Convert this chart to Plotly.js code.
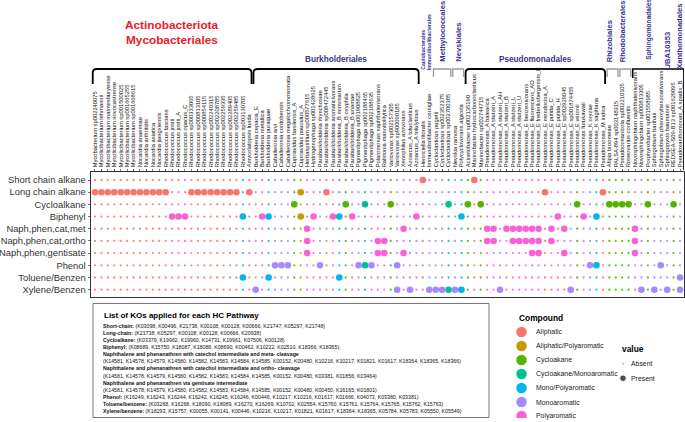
<!DOCTYPE html>
<html><head><meta charset="utf-8">
<script src="https://cdn.plot.ly/plotly-3.0.1.min.js"></script>
<style>html,body{margin:0;padding:0;background:#fff;} #chart{width:685px;height:422px;}</style>
</head><body><div id="chart"></div>
<script>
// ---------------- DATA ----------------
const species = [
"Mycobacterium sp002240075","Mycolicibacterium lehmannii","Mycolicibacterium malmesburyense","Mycolicibacterium novocastrense",
"Mycolicibacterium sp001500025","Mycolicibacterium sp001665255","Mycolicibacterium sp001668615","Nocardia anaemiae",
"Nocardia arthritidis","Nocardia asiatica","Nocardia jiangxiensis","Rhodococcus fascians","Rhodococcus jostii",
"Rhodococcus jostii_A","Rhodococcus opacus_C","Rhodococcus sp000333065","Rhodococcus sp000813105","Rhodococcus sp000854115",
"Rhodococcus sp002240315","Rhodococcus sp002208785","Rhodococcus sp002259335","Rhodococcus sp002289405","Rhodococcus sp002259485",
"Rhodococcus sp003130705","Amycolatopsis lurida",
"Burkholderia cepacia_E","Burkholderia metallica","Burkholderia puraquae","Caballeronia arvi","Caballeronia cordobensis",
"Caballeronia megalochromosomata","Cupriavidus basilensis_A","Cupriavidus pauculus_A","Herbaspirillum sp000577615",
"Hydrogenophaga sp001428625","Paraburkholderia rhynchosiae","Paraburkholderia sp008472445","Paraburkholderia aromaticivorans",
"Paraburkholderia_B mimosarum","Paraburkholderia_B oxyphila","Paraburkholderia_B unamae","Pigmentiphaga sp001908825",
"Pigmentiphaga sp002188465","Pigmentiphaga sp002188635","Polaromonas naphthalenivorans","Ralstonia mannitolilytica",
"Variovorax sp002157305","Variovorax sp900090185","Xenophilus azovorans","Azoarcus_A toluclasticus","Azoarcus_A tolulyticus",
"Henriciella litoralis","Immundisolibacter cernigliae","Cycloclasticus pugetii","Cycloclasticus sp002352375",
"Cycloclasticus sp002700385","Nevskia ramosa","Polycyclovorans algicola",
"Acinetobacter sp002135190","Marinobacter hydrocarbonoclasticus","Marinobacter sp002744715","Pseudomonas_A balearica",
"Pseudomonas_A stutzeri_A","Pseudomonas_A stutzeri_AH","Pseudomonas_A stutzeri_B","Pseudomonas_A stutzeri_L",
"Pseudomonas_A stutzeri_U","Pseudomonas_E benzenivorans","Pseudomonas_E fluorescens_AO","Pseudomonas_E frederiksbergensis_E",
"Pseudomonas_E mendocina_A","Pseudomonas_E putida_C","Pseudomonas_E putida_H","Pseudomonas_E sp002929045",
"Pseudomonas_E sp001874455","Pseudomonas_E veronii","Pseudomonas furukawaii","Pseudomonas_K oryzae",
"Pseudomonas_K sagittaria","Pseudomonas_M indica",
"Afipia broomeae","PALSA-894 sp003148315","Pseudooceanicola sp002210105","Roseovarius confluentis",
"Novosphingobium naphthalenivorans","Novosphingobium sp000813305","Porphyrobacter sp001558985","Sphingobium barthaii",
"Sphingobium phenoxybenzoativorans","Sphingopyxis baumannii","REDSEA-S09-B13 sp001629095","Pseudoxanthomonas_A spadix_B"
];

// compound class of each species (A, AP, C, CM, MP, M, P)
const speciesCompound = [
"A","A","A","A","A","A","A","A","A","A","A","A","P","P","P","A","A","A","A","A","A","A","A","MP","A",
"M","P","MP","M","M","M","C","AP","P","P","M","A","P","MP","C","P","M","CM","M","P","P","C","M","P","M","P",
"A","M","M","M","CM","M","MP",
"C","A","C","P","P","M","P","P","P","P","P","P","A","P","P","P","M","C","P","M","MP","A",
"C","C","C","C","P","M","C","M","M","M","C","M"
];

const orderNames = ["Mycobacteriales","Burkholderiales","Caulobacterales","Immundisolibacterales","Methylococcales",
  "Nevskiales","Pseudomonadales","Rhizobiales","Rhodobacterales","Sphingomonadales","UBA10353","Xanthomonadales"];
const orderSizes = [25,26,1,1,3,2,22,2,2,6,1,1];

const pathways = ["Short chain alkane","Long chain alkane","Cycloalkane","Biphenyl","Naph,phen,cat,met",
  "Naph,phen,cat,ortho","Naph,phen,gentisate","Phenol","Toluene/Benzen","Xylene/Benzen"];

// species (column numbers) with KOs present, per pathway
const presShortChain = [52,60];
const presLongChain  = [1,2,3,4,5,6,7,8,9,10,11,12,16,17,18,19,20,21,22,23,25,33,37,71,80];
const presCyclo      = [32,40,43,47,56,59,61,76,81,82,83,84,87,91];
const presBiphenyl   = [13,14,15,24,27,28,33,35,38,39,41,51,58,73,77,79];
const presNaphMeta   = [34,49,62,63,65,66,67,68,69,70,72,74,85];
const presNaphOrtho  = [34,45,46,62,63,66,67,68,69,70,72,85];
const presNaphGent   = [34,45,46,49,69,70,74,85];
const presPhenol     = [29,30,31,36,42,43,44,48,78,79,89];
const presToluene    = [24,28,39,92];
const presXylene     = [26,48,50,53,54,55,56,57,58,64,75,86,88,90,92];

const compoundCodes = ["A","AP","C","CM","MP","M","P"];
const compounds = ["Aliphatic","Aliphatic/Polyaromatic","Cycloakane","Cycloakane/Monoaromatic","Mono/Polyaromatic","Monoaromatic","Polyaromatic"];
const valueLevels = ["Absent","Present"];

const koPathways = ["Short-chain:","Long-chain:","Cycloalkane:","Biphenyl:",
  "Naphthalene and phenanathren with catechol intermediate and meta- cleavage",
  "Naphthalene and phenanathren with catechol intermediate and ortho- cleavage",
  "Naphthalene and phenanathren via gentisate intermediate",
  "Phenol:","Toluene/benzene:","Xylene/benzene:"];
const koShort = ["K03098","K00496","K21738","K00108","K00128","K00666","K21747","K05297","K21748"];
const koLong = ["K21738","K05297","K00108","K00128","K00666","K20938"];
const koCyclo = ["K03379","K19962","K19960","K14731","K19961","K07506","K00128"];
const koBiphenyl = ["K08689","K15750","K18087","K18088","K08690","K00462","K10222","K02510","K18366","K18365"];
const koNaphMeta = ["K14581","K14578","K14579","K14580","K14582","K14583","K14584","K14585","K00152","K00480","K10216","K10217","K01821","K01617","K18364","K18365","K18366"];
const koNaphOrtho = ["K14581","K14578","K14579","K14580","K14582","K14583","K14584","K14585","K00152","K00480","K03381","K01856","K03464"];
const koNaphGent = ["K14581","K14578","K14579","K14580","K14582","K14583","K14584","K14585","K00152","K00480","K00450","K16165","K01801"];
const koPhenol = ["K16249","K16243","K16244","K16242","K16245","K16246","K00446","K10217","K10216","K01617","K01666","K04073","K03380","K03381"];
const koToluene = ["K03268","K16268","K18090","K18089","K16270","K16269","K10702","K02554","K15760","K15761","K15764","K15765","K15762","K15763"];
const koXylene = ["K18293","K15757","K00055","K00141","K00446","K10216","K10217","K01821","K01617","K18364","K18365","K05784","K05783","K05550","K05549"];

// ---------------- STYLE ----------------
const compoundColors = ["#F8766D","#C49A00","#53B400","#00C094","#00B6EB","#A58AFF","#FB61D7"];
const FONT = "Liberation Sans, Arial, Helvetica, sans-serif";
const RED = "#E8202A", BLUE = "#3A3393";
const W = 685, H = 422, ML = 91, MR = 1, MT = 172, MB = 4;
const PW = W - ML - MR, PH = H - MT - MB;
const px2x = p => (p - ML) / PW;
const py2y = p => (H - MB - p) / PH;

const presenceLists = [presShortChain,presLongChain,presCyclo,presBiphenyl,presNaphMeta,presNaphOrtho,presNaphGent,presPhenol,presToluene,presXylene];
const colorOf = i => compoundColors[compoundCodes.indexOf(speciesCompound[i])];

const ax=[],ay=[],ac=[],px=[],py=[],pc=[];
pathways.forEach((p,ri)=>{
  const s = new Set(presenceLists[ri]);
  species.forEach((sp,ci)=>{
    if (s.has(ci+1)) { px.push(ci+1); py.push(ri+1); pc.push(colorOf(ci)); }
    else { ax.push(ci+1); ay.push(ri+1); ac.push(colorOf(ci)); }
  });
});

// legend rows (title row 0, entries 1..n); value legend centred beside it
const valueRows = [2.2, 3.28, 4.3];
const LX0 = 521.5, LX1 = 623;   // legend key columns (px)

const traces = [
  {type:"scatter", mode:"markers", x:ax, y:ay, marker:{size:2.3, color:ac, opacity:0.85}, hoverinfo:"skip", showlegend:false},
  {type:"scatter", mode:"markers", x:px, y:py, marker:{size:6.6, color:pc}, hoverinfo:"skip", showlegend:false},
  {type:"scatter", mode:"markers", xaxis:"x2", yaxis:"y2", x:compounds.map(()=>0), y:compounds.map((c,i)=>i+1),
   marker:{size:10.5, color:compoundColors}, hoverinfo:"skip", showlegend:false},
  {type:"scatter", mode:"markers", xaxis:"x2", yaxis:"y2", x:valueLevels.map(()=>1), y:valueLevels.map((v,i)=>valueRows[i+1]),
   marker:{size:[2.3,6.6], color:"#000"}, hoverinfo:"skip", showlegend:false}
];

const annotations = [], shapes = [];

annotations.push({xref:"x2",yref:"y2",x:0,y:0,xshift:-4.5,xanchor:"left",yanchor:"middle",showarrow:false,
  text:"<b>Compound</b>",font:{family:FONT,size:8.4,color:"#000"}});
annotations.push({xref:"x2",yref:"y2",x:1,y:valueRows[0],xshift:-3,xanchor:"left",yanchor:"middle",showarrow:false,
  text:"<b>value</b>",font:{family:FONT,size:8.4,color:"#000"}});
compounds.forEach((c,i)=>annotations.push({xref:"x2",yref:"y2",x:0,y:i+1,xshift:12,xanchor:"left",yanchor:"middle",
  showarrow:false,text:c,font:{family:FONT,size:6.9,color:"#1a1a1a"}}));
valueLevels.forEach((v,i)=>annotations.push({xref:"x2",yref:"y2",x:1,y:valueRows[i+1],xshift:5.5,xanchor:"left",yanchor:"middle",
  showarrow:false,text:v,font:{family:FONT,size:6.9,color:"#1a1a1a"}}));

// KO box
shapes.push({type:"rect",xref:"paper",yref:"paper",x0:px2x(93),x1:px2x(489),y0:py2y(417.5),y1:py2y(303.5),
  line:{color:"#555",width:0.8},fillcolor:"rgba(0,0,0,0)"});
annotations.push({xref:"paper",yref:"paper",x:px2x(102),y:py2y(315),xanchor:"left",yanchor:"middle",showarrow:false,
  text:"<b>List of KOs applied for each HC Pathway</b>",font:{family:FONT,size:8,color:"#000"}});
const koLists = [koShort,koLong,koCyclo,koBiphenyl,koNaphMeta,koNaphOrtho,koNaphGent,koPhenol,koToluene,koXylene];
const koLines = [];
koPathways.forEach((p,i)=>{
  const list = "(" + koLists[i].join(", ") + ")" + (i===3 ? "," : "");
  if (p.endsWith(":")) koLines.push("<b>"+p+"</b> "+list);
  else { koLines.push("<b>"+p+"</b>"); koLines.push(list); }
});
koLines.forEach((t,i)=>annotations.push({xref:"paper",yref:"paper",x:px2x(101),y:py2y(326+7.08*i),
  xanchor:"left",yanchor:"middle",showarrow:false,text:t,font:{family:FONT,size:5.25,color:"#111"}}));

// order brackets and labels
const yB = py2y(69);
let start = 1;
orderNames.forEach((o,i)=>{
  const a = start, b = start + orderSizes[i] - 1; start = b + 1;
  const x0 = a - 0.35, x1 = b + 0.35, mid = (a + b) / 2;
  if (["Mycobacteriales","Burkholderiales","Pseudomonadales"].includes(o)) {
    const yE = py2y(84), yC = py2y(73);
    shapes.push({type:"path",xref:"x",yref:"paper",line:{color:"#000",width:1.8},
      path:`M ${x0},${yE} L ${x0},${yC} Q ${x0},${yB} ${x0+0.6},${yB} L ${x1-0.6},${yB} Q ${x1},${yB} ${x1},${yC} L ${x1},${yE}`});
  } else if (["Methylococcales","Nevskiales","Rhizobiales","Rhodobacterales"].includes(o)) {
    const yE = py2y(77);
    shapes.push({type:"path",xref:"x",yref:"paper",line:{color:"#9a9a9a",width:1.3},
      path:`M ${x0},${yE} L ${x0},${yB} L ${x1},${yB} L ${x1},${yE}`});
  } else if (o === "Sphingomonadales") {
    shapes.push({type:"path",xref:"x",yref:"paper",line:{color:"#000",width:1.5},
      path:`M ${x0},${py2y(78)} L ${x0},${yB} L 92.6,${yB} L 92.6,${py2y(170)}`});
  }
  if (o === "Mycobacteriales") {
    annotations.push({xref:"x",yref:"paper",x:mid,y:py2y(25),xanchor:"center",yanchor:"middle",showarrow:false,
      text:"<b>Actinobacteriota</b>",font:{family:FONT,size:11.8,color:RED}});
    annotations.push({xref:"x",yref:"paper",x:mid,y:py2y(40.5),xanchor:"center",yanchor:"middle",showarrow:false,
      text:"<b>Mycobacteriales</b>",font:{family:FONT,size:11.8,color:RED}});
  } else if (o === "Burkholderiales" || o === "Pseudomonadales") {
    annotations.push({xref:"x",yref:"paper",x:mid,y:py2y(59.5),xanchor:"center",yanchor:"middle",showarrow:false,
      text:"<b>"+o+"</b>",font:{family:FONT,size:8.2,color:BLUE}});
  } else {
    const small = (o === "Caulobacterales" || o === "Immundisolibacterales");
    let bottom = small ? 72 : 64, xc = mid, size = small ? 5.2 : 7.6;
    if (o === "Rhizobiales" || o === "Rhodobacterales") xc = mid - 0.5;
    if (o === "Sphingomonadales") { bottom = 62; xc = mid - 0.3; size = 6.6; }
    if (o === "UBA10353") { bottom = 71; xc = mid - 0.8; }
    if (o === "Xanthomonadales") { bottom = 71; xc = mid - 0.1; }
    annotations.push({xref:"x",yref:"paper",x:xc,y:py2y(bottom),xanchor:"center",yanchor:"bottom",showarrow:false,
      textangle:-90,text:"<b>"+o+"</b>",font:{family:FONT,size:size,color:BLUE}});
  }
});

const layout = {
  width:W, height:H, margin:{l:ML,r:MR,t:MT,b:MB,pad:0},
  paper_bgcolor:"#fff", plot_bgcolor:"#fff", showlegend:false,
  font:{family:FONT,color:"#333"},
  xaxis:{domain:[0,1], range:[0.38,92.62], side:"top", tickmode:"array",
    tickvals:species.map((s,i)=>i+1), ticktext:species, tickangle:-90,
    tickfont:{family:FONT,size:5.8,color:"#111"}, ticks:"outside", ticklen:2.5, tickwidth:0.7, tickcolor:"#333",
    showline:true, mirror:true, linecolor:"#333", linewidth:1, showgrid:false, zeroline:false, fixedrange:true, automargin:false},
  yaxis:{domain:[py2y(297),1], range:[10.6,0.344], tickmode:"array",
    tickvals:pathways.map((p,i)=>i+1), ticktext:pathways,
    tickfont:{family:FONT,size:9.4,color:"#333"}, ticks:"outside", ticklen:2.5, tickwidth:0.7, tickcolor:"#333",
    showline:true, mirror:"ticks", linecolor:"#333", linewidth:1, showgrid:false, zeroline:false, fixedrange:true, automargin:false},
  xaxis2:{domain:[px2x(505),1], range:[(505-LX0)/(LX1-LX0),(684-LX0)/(LX1-LX0)], visible:false, fixedrange:true},
  yaxis2:{domain:[0,py2y(305)], range:[(418-318)/14,(305-318)/14], visible:false, fixedrange:true},
  annotations, shapes
};

Plotly.newPlot("chart", traces, layout, {displayModeBar:false, staticPlot:true});
</script>
</body></html>
